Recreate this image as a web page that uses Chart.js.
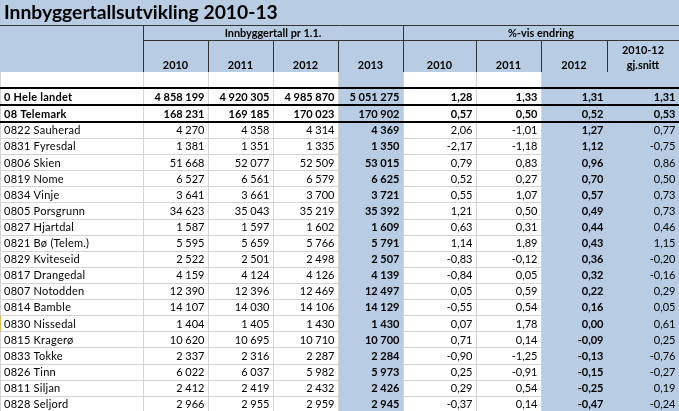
<!DOCTYPE html>
<html><head><meta charset="utf-8">
<script src="https://cdn.jsdelivr.net/npm/chart.js@4/dist/chart.umd.min.js"></script>
<style>html,body{margin:0;padding:0;background:#fff;overflow:hidden}#wrap{width:679px;height:411px;position:relative}</style>
</head><body><div id="wrap"><canvas id="c"></canvas></div>
<script>
// ---- data ----
const title = 'Innbyggertallsutvikling 2010-13';
const groupHeaders = ['Innbyggertall pr 1.1.', '%-vis endring'];
const columnHeaders = ['2010', '2011', '2012', '2013', '2010', '2011', '2012', '2010-12\ngj.snitt'];
const regions = ['0 Hele landet', '08 Telemark', '0822 Sauherad', '0831 Fyresdal', '0806 Skien', '0819 Nome',
  '0834 Vinje', '0805 Porsgrunn', '0827 Hjartdal', '0821 Bø (Telem.)', '0829 Kviteseid', '0817 Drangedal',
  '0807 Notodden', '0814 Bamble', '0830 Nissedal', '0815 Kragerø', '0833 Tokke', '0826 Tinn', '0811 Siljan', '0828 Seljord'];
const pop2010 = [4858199, 168231, 4270, 1381, 51668, 6527, 3641, 34623, 1587, 5595, 2522, 4159, 12390, 14107, 1404, 10620, 2337, 6022, 2412, 2966];
const pop2011 = [4920305, 169185, 4358, 1351, 52077, 6561, 3661, 35043, 1597, 5659, 2501, 4124, 12396, 14030, 1405, 10695, 2316, 6037, 2419, 2955];
const pop2012 = [4985870, 170023, 4314, 1335, 52509, 6579, 3700, 35219, 1602, 5766, 2498, 4126, 12469, 14106, 1430, 10710, 2287, 5982, 2432, 2959];
const pop2013 = [5051275, 170902, 4369, 1350, 53015, 6625, 3721, 35392, 1609, 5791, 2507, 4139, 12497, 14129, 1430, 10700, 2284, 5973, 2426, 2945];
const chg2010 = [1.28, 0.57, 2.06, -2.17, 0.79, 0.52, 0.55, 1.21, 0.63, 1.14, -0.83, -0.84, 0.05, -0.55, 0.07, 0.71, -0.90, 0.25, 0.29, -0.37];
const chg2011 = [1.33, 0.50, -1.01, -1.18, 0.83, 0.27, 1.07, 0.50, 0.31, 1.89, -0.12, 0.05, 0.59, 0.54, 1.78, 0.14, -1.25, -0.91, 0.54, 0.14];
const chg2012 = [1.31, 0.52, 1.27, 1.12, 0.96, 0.70, 0.57, 0.49, 0.44, 0.43, 0.36, 0.32, 0.22, 0.16, 0.00, -0.09, -0.13, -0.15, -0.25, -0.47];
const avg1012 = [1.31, 0.53, 0.77, -0.75, 0.86, 0.50, 0.73, 0.73, 0.46, 1.15, -0.20, -0.16, 0.29, 0.05, 0.61, 0.25, -0.76, -0.27, 0.19, -0.24];

// ---- layout (table geometry in scale units) ----
const colEdges = [0, 143, 208, 273, 338, 403, 476, 541, 607, 679];
const headerEdges = [0, 25, 40, 72, 88];   // title, group header, column header, blank row
const summaryHeights = [17, 17];           // Hele landet, Telemark
const rowHeight = 16.1;
const blueCols = [4, 7, 8];
const boldCols = [4, 7];
const selectedRow = 14;                    // row marked at the left edge
const BLUE = '#B8CCE4';
const GRID = '#D4D4D4';
const FONT = 'Lato, "Open Sans", sans-serif';

const fmtInt = n => String(n).replace(/\B(?=(\d{3})+(?!\d))/g, ' ');
const fmtPct = v => v.toFixed(2).replace('.', ',');
const columns = [regions, pop2010, pop2011, pop2012, pop2013, chg2010, chg2011, chg2012, avg1012];

const bodyEdges = [headerEdges[4]];
summaryHeights.forEach(h => bodyEdges.push(bodyEdges[bodyEdges.length - 1] + h));
for (let i = 2; i < regions.length; i++) bodyEdges.push(bodyEdges[bodyEdges.length - 1] + rowHeight);

const tablePlugin = {
  id: 'table',
  afterDraw(chart) {
    const ctx = chart.ctx, xs = chart.scales.x, ys = chart.scales.y;
    const X = v => xs.getPixelForValue(v), Y = v => ys.getPixelForValue(v);
    const W = X(colEdges[colEdges.length - 1]);
    const hline = (x0, x1, y, color, w) => { ctx.strokeStyle = color; ctx.lineWidth = w; ctx.beginPath(); ctx.moveTo(X(x0), Y(y)); ctx.lineTo(X(x1), Y(y)); ctx.stroke(); };
    const vline = (x, y0, y1, color, w) => { ctx.strokeStyle = color; ctx.lineWidth = w; ctx.beginPath(); ctx.moveTo(X(x) + 0.5, Y(y0)); ctx.lineTo(X(x) + 0.5, Y(y1)); ctx.stroke(); };
    ctx.save();
    ctx.fillStyle = '#fff';
    ctx.fillRect(0, 0, chart.width, chart.height);
    ctx.fillStyle = BLUE;
    ctx.fillRect(X(0), Y(0), W, Y(headerEdges[3]) - Y(0));
    const bodyTop = headerEdges[3], bodyBottom = 420;
    blueCols.forEach(c => ctx.fillRect(X(colEdges[c]), Y(bodyTop), X(colEdges[c + 1]) - X(colEdges[c]), Y(bodyBottom) - Y(bodyTop)));
    // body gridlines
    bodyEdges.forEach(y => {
      for (let c = 0; c < colEdges.length - 1; c++) if (!blueCols.includes(c)) hline(colEdges[c], colEdges[c + 1], Math.round(y) + 0.5, GRID, 1);
    });
    [0, 143, 208, 273, 338, 403, 476, 541].forEach(x => vline(x, bodyTop, bodyBottom, GRID, 1));
    // selected row marker
    vline(0, bodyEdges[selectedRow] + 1, bodyEdges[selectedRow + 1], '#E8B84A', 1);
    // header lines
    hline(0, colEdges[9], headerEdges[1] + 0.5, '#333', 1);
    hline(colEdges[1], colEdges[9], headerEdges[2] + 0.5, '#333', 1);
    vline(colEdges[1], headerEdges[1], headerEdges[3], '#333', 1);
    vline(colEdges[5], headerEdges[1], headerEdges[3], '#333', 1);
    for (let c = 2; c < colEdges.length - 1; c++) if (c !== 5) vline(colEdges[c], headerEdges[2], headerEdges[3], '#333', 1);
    // thick separators
    [headerEdges[4], bodyEdges[1], bodyEdges[2]].forEach(y => hline(0, colEdges[9], y, '#000', 2));

    // title
    ctx.fillStyle = '#000';
    ctx.textBaseline = 'alphabetic';
    ctx.textAlign = 'left';
    ctx.font = 'bold 19.3px ' + FONT;
    ctx.fillText(title, X(4), Y(18.8));
    // group headers
    ctx.font = 'bold 10.9px ' + FONT;
    ctx.textAlign = 'center';
    ctx.fillText(groupHeaders[0], (X(colEdges[1]) + X(colEdges[5])) / 2, Y(headerEdges[2] - 3.5));
    ctx.fillText(groupHeaders[1], (X(colEdges[5]) + X(colEdges[9])) / 2, Y(headerEdges[2] - 3.5));
    columnHeaders.forEach((h, i) => {
      const cx = (X(colEdges[i + 1]) + X(colEdges[i + 2])) / 2;
      const lines = h.split('\n');
      lines.forEach((ln, j) => ctx.fillText(ln, cx, Y(68.5 - (lines.length - 1 - j) * 14.5)));
    });
    // body
    for (let r = 0; r < regions.length; r++) {
      const yb = Y(bodyEdges[r + 1] - 3.8);
      for (let c = 0; c < columns.length; c++) {
        const bold = r < 2 || boldCols.includes(c);
        ctx.font = (bold ? 'bold ' : '') + '11px ' + FONT;
        const v = columns[c][r];
        if (c === 0) {
          ctx.textAlign = 'left';
          ctx.letterSpacing = '0.25px';
          ctx.fillText(v, X(colEdges[0] + 4), yb);
          ctx.letterSpacing = '0px';
        } else {
          ctx.textAlign = 'right';
          const txt = c <= 4 ? fmtInt(v) : fmtPct(v);
          ctx.fillText(txt, X(colEdges[c + 1]) - 3.5, yb);
        }
      }
    }
    ctx.restore();
  }
};

new Chart(document.getElementById('c'), {
  type: 'scatter',
  data: { datasets: [{ data: [], pointRadius: 0 }] },
  options: {
    responsive: true, maintainAspectRatio: false, animation: false,
    layout: { padding: 0 },
    plugins: { legend: { display: false }, tooltip: { enabled: false } },
    scales: {
      x: { type: 'linear', min: 0, max: 679, display: false },
      y: { type: 'linear', min: 0, max: 411, reverse: true, display: false }
    }
  },
  plugins: [tablePlugin]
});
</script></body></html>
